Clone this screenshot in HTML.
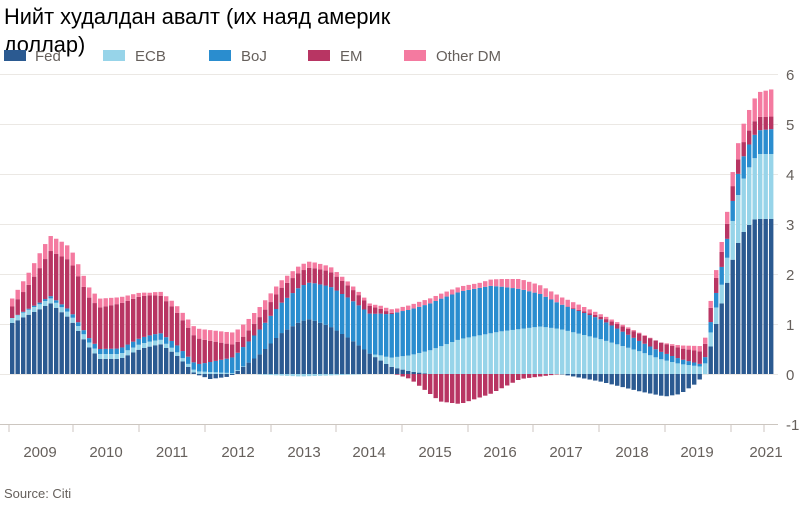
<!DOCTYPE html>
<html><head><meta charset="utf-8"><style>
body{margin:0;background:#fff;width:800px;height:507px;overflow:hidden;font-family:"Liberation Sans",sans-serif}
</style></head><body>
<svg id="s" width="800" height="507" xmlns="http://www.w3.org/2000/svg" font-family="Liberation Sans, DejaVu Sans, sans-serif">
<g id="grid" stroke="#ebe8e4" stroke-width="1"></g>
<g id="bars"></g>
<g id="ax" font-size="15" fill="#66605c"></g>
<text x="4" y="24" font-size="21.8" fill="#000">Нийт худалдан авалт (их наяд америк</text>
<text x="4" y="52" font-size="21.8" fill="#000">доллар)</text>
<g font-size="15" fill="#66605c">
<rect x="4" y="50" width="22" height="11" fill="#2b5a91"/><text x="35" y="61">Fed</text>
<rect x="103" y="50" width="22" height="11" fill="#97d4e9"/><text x="135" y="61">ECB</text>
<rect x="209" y="50" width="22" height="11" fill="#2a8dcf"/><text x="241" y="61">BoJ</text>
<rect x="308" y="50" width="22" height="11" fill="#b83563"/><text x="340" y="61">EM</text>
<rect x="404" y="50" width="22" height="11" fill="#f47aa0"/><text x="436" y="61">Other DM</text>
</g>
<text x="4" y="498" font-size="13" fill="#66605c">Source: Citi</text>
</svg>
<script>
const ns="http://www.w3.org/2000/svg";
function el(t,a,p){const e=document.createElementNS(ns,t);for(const k in a)e.setAttribute(k,a[k]);document.getElementById(p).appendChild(e);return e;}
const Y=v=>374-v*50;
for(let v=-1;v<=6;v++){el('line',{x1:0,x2:778,y1:Y(v)+.5,y2:Y(v)+.5,stroke:v==-1?'#ccc6c0':'#ebe8e4'},'grid');
 const t=el('text',{x:786,y:Y(v)+6},'ax');t.textContent=v;}
const yrs=[[40,'2009'],[106,'2010'],[172,'2011'],[238,'2012'],[304,'2013'],[369,'2014'],[435,'2015'],[500,'2016'],[566,'2017'],[632,'2018'],[697,'2019'],[766,'2021']];
yrs.forEach(([x,l])=>{const t=el('text',{x:x,y:457,'text-anchor':'middle'},'ax');t.textContent=l;});
[9,73,139,205,271,336,402,468,533,599,665,731,764].forEach(x=>el('line',{x1:x,x2:x,y1:424,y2:432,stroke:'#ccc6c0'},'ax'));
const S={
fed:[[10,1.0],[20,1.1],[40,1.3],[50,1.42],[70,1.1],[90,0.5],[100,0.3],[120,0.3],[140,0.5],[160,0.6],[175,0.4],[195,0],[210,-0.1],[230,-0.05],[240,0.1],[260,0.4],[280,0.8],[300,1.05],[310,1.1],[330,0.95],[350,0.7],[370,0.4],[390,0.15],[410,0.05],[430,0],[560,0],[600,-0.15],[640,-0.35],[665,-0.45],[680,-0.4],[695,-0.2],[705,0],[712,0.7],[720,1.3],[728,1.9],[735,2.5],[745,2.9],[755,3.1],[773,3.1]],
ecb:[[10,0.1],[150,0.1],[200,0.05],[250,0],[300,-0.05],[370,0],[380,0.1],[420,0.4],[460,0.7],[500,0.85],[540,0.95],[560,0.9],[600,0.7],[640,0.45],[660,0.3],[680,0.2],[700,0.15],[712,0.3],[725,0.4],[735,0.9],[745,1.1],[760,1.3],[773,1.3]],
boj:[[10,0],[100,0.1],[200,0.15],[230,0.3],[260,0.5],[300,0.7],[330,0.8],[370,0.8],[400,0.9],[440,0.95],[490,0.95],[520,0.8],[560,0.5],[600,0.4],[640,0.2],[680,0.1],[700,0.05],[720,0.35],[745,0.45],[773,0.5]],
em:[[10,0.2],[30,0.5],[50,0.9],[70,1.0],[90,0.8],[120,0.9],[150,0.8],[170,0.7],[200,0.5],[240,0.2],[280,0.3],[330,0.3],[360,0.2],[380,0.1],[410,-0.1],[440,-0.55],[460,-0.6],[490,-0.4],[520,-0.1],[560,0],[600,0.05],[640,0.15],[670,0.2],[700,0.25],[715,0.3],[730,0.3],[773,0.25]],
odm:[[10,0.15],[40,0.3],[60,0.3],[90,0.2],[150,0.05],[200,0.2],[240,0.25],[280,0.15],[330,0.1],[370,0.05],[420,0.1],[480,0.1],[520,0.2],[560,0.15],[600,0.05],[660,0],[715,0.15],[735,0.3],[760,0.5],[773,0.55]]};
const C={fed:'#2b5a91',ecb:'#97d4e9',boj:'#2a8dcf',em:'#b83563',odm:'#f47aa0'};
function f(k,x){const a=S[k];if(x<=a[0][0])return a[0][1];for(let i=1;i<a.length;i++)if(x<=a[i][0]){const[x0,y0]=a[i-1],[x1,y1]=a[i];return y0+(y1-y0)*(x-x0)/(x1-x0);}return a[a.length-1][1];}
for(let x=10;x<=770;x+=5.5){let p=0,n=0;for(const k of ['fed','ecb','boj','em','odm']){const v=f(k,x+2);if(Math.abs(v)<0.005)continue;
 if(v>0){el('rect',{x:x,width:4.4,y:Y(p+v),height:v*50,fill:C[k]},'bars');p+=v;}else{el('rect',{x:x,width:4.4,y:Y(n),height:-v*50,fill:C[k]},'bars');n+=v;}}}
</script>
</body></html>
